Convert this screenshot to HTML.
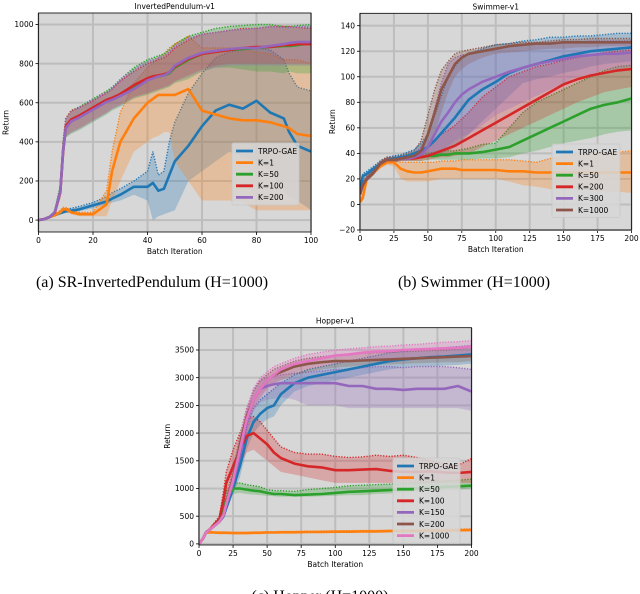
<!DOCTYPE html>
<html><head><meta charset="utf-8"><style>
body{margin:0;background:#fff;}
svg{display:block;font-family:"DejaVu Sans","Liberation Sans",sans-serif;}
.cap{font-family:"Liberation Serif",serif;font-size:16px;}
</style></head><body>
<svg id="fig" width="640" height="594" viewBox="0 0 640 594">
<text class="cap" x="152" y="287" text-anchor="middle">(a) SR-InvertedPendulum (H=1000)</text>
<text class="cap" x="474" y="287" text-anchor="middle">(b) Swimmer (H=1000)</text>
<text class="cap" x="320" y="601" text-anchor="middle">(c) Hopper (H=1000)</text>
</svg>
<script>
// ---- Chart A: InvertedPendulum ----
const aX=[0,2,4,6,8,9,10,12,15,20,25,27,30,35,40,42,44,46,48,50,55,60,65,70,75,80,85,90,92,95,100];
const aTrpoM=[0,5,15,25,35,40,45,48,55,75,95,110,130,170,170,190,150,160,230,300,380,480,560,590,570,610,550,520,450,380,350];
const aTrpoH=[0,6,18,30,45,50,55,60,70,90,120,140,160,200,250,350,230,250,400,500,650,750,830,860,870,880,870,820,750,680,660];
const aTrpoL=[0,4,12,20,28,32,36,40,45,60,80,90,100,130,100,0,20,30,40,50,200,250,300,350,320,300,250,150,120,100,50];
const aK1M=[0,5,15,25,40,55,55,40,30,30,80,250,400,520,600,620,640,640,640,640,670,560,540,520,510,510,500,480,470,440,430];
const aK1H=[0,6,18,30,50,65,65,50,40,40,150,350,550,700,780,800,830,850,880,900,940,880,880,880,870,860,850,820,820,820,800];
const aK1L=[0,4,12,20,30,45,45,30,20,20,20,100,200,350,400,420,430,450,450,300,200,100,100,100,90,50,50,50,50,50,50];
const aK50M=[0,5,15,40,150,350,470,510,530,570,610,620,640,680,720,730,735,740,750,780,820,850,860,870,875,880,885,890,890,895,905];
const aK50H=[0,6,18,45,180,400,520,560,580,620,660,680,720,780,820,830,840,850,870,900,940,960,980,990,995,1000,1000,990,990,995,1000];
const aK50L=[0,4,12,35,120,300,420,440,460,500,540,560,580,620,640,650,660,670,680,700,720,760,780,780,770,760,760,750,760,750,750];
const aK100M=[0,5,15,38,140,340,480,515,535,575,615,625,645,690,725,735,740,745,755,785,825,850,860,870,880,885,885,895,895,900,900];
const aK100H=[0,6,18,42,170,390,520,560,575,610,650,670,710,760,800,810,820,830,850,880,920,950,960,970,980,980,990,990,990,985,980];
const aK100L=[0,4,12,33,110,290,430,450,470,510,550,570,590,630,650,660,670,680,690,710,740,770,790,800,800,800,800,800,800,800,800];
const aK200M=[0,5,15,40,145,345,470,505,525,565,605,615,635,670,715,725,735,740,755,790,830,855,865,875,880,880,890,900,905,910,910];
const aK200H=[0,6,18,44,175,395,515,555,575,615,655,675,715,770,810,820,830,840,860,890,930,950,960,970,975,980,990,985,985,990,990];
const aK200L=[0,4,12,34,115,295,425,445,465,505,545,565,585,625,645,655,665,675,685,705,730,760,780,790,790,790,790,790,790,790,790];
const aYTicks=[0,200,400,600,800,1000];
const aXTicks=[0,20,40,60,80,100];
// ---- Chart B: Swimmer ----
const bX=[0,2,5,10,15,20,25,30,35,40,45,50,55,60,65,70,75,80,90,100,110,120,130,140,150,160,170,180,190,200];
const bTrpoM=[10,22,24,28,32,35,36,37,38,40,42,45,50,56,62,68,75,82,90,96,103,107,110,113,116,118,120,121,122,123];
const bTrpoH=[12,24,26,30,34,37,38,39,41,43,48,55,70,85,100,108,115,118,122,125,126,128,129,131,131,132,132,133,134,134];
const bTrpoL=[8,18,20,25,30,33,34,35,36,36,37,38,39,40,42,45,50,55,65,75,85,95,98,100,103,105,108,110,111,112];
const bK1M=[2,5,20,25,30,33,33,28,26,25,25,26,27,28,28,28,27,27,27,27,26,26,25,25,25,25,25,25,25,25];
const bK1H=[3,8,22,27,32,35,35,33,33,33,33,33,33,34,34,34,35,35,35,35,35,34,33,36,38,39,40,41,41,42];
const bK1L=[1,2,18,23,28,31,30,20,18,18,18,18,19,20,20,20,20,20,20,20,18,15,14,12,12,12,11,10,10,9];
const bK50M=[8,15,20,25,32,35,35,36,36,37,37,38,38,39,39,40,40,40,41,43,45,50,55,60,65,70,75,78,80,83];
const bK50H=[10,18,22,27,34,37,37,38,39,39,40,40,41,42,42,42,43,44,47,48,60,72,80,85,90,95,100,105,108,109];
const bK50L=[6,12,18,23,30,33,33,34,34,34,34,35,35,35,35,35,35,35,36,36,37,40,42,45,48,50,52,55,57,58];
const bK200M=[8,15,20,25,32,35,35,36,36,36,37,38,40,42,44,46,49,52,58,64,70,76,82,88,94,98,101,103,105,106];
const bK200H=[10,18,22,27,34,37,37,38,38,38,41,45,50,55,58,62,67,72,84,92,100,104,108,110,113,115,117,119,120,121];
const bK200L=[6,12,18,23,30,33,33,34,34,34,34,35,36,37,37,38,39,40,45,50,55,60,65,70,75,80,84,88,90,92];
const bK300M=[8,15,20,25,32,35,35,36,36,37,39,45,55,65,72,80,86,90,96,100,104,107,110,112,114,116,117,118,118,119];
const bK300H=[10,18,22,27,34,37,37,38,38,40,45,55,75,95,110,115,117,118,120,122,124,125,126,126,127,127,128,128,128,128];
const bK300L=[6,12,18,23,30,33,33,34,34,35,36,38,40,42,46,50,53,55,62,70,75,80,85,90,95,100,102,105,106,108];
const bK1000M=[8,15,20,25,32,35,35,36,37,38,42,55,72,90,100,110,115,118,120,122,124,125,126,126,127,127,127,127,127,127];
const bK1000H=[10,18,22,27,34,37,37,38,40,42,50,70,90,105,112,118,120,121,123,125,126,127,127,128,129,129,130,130,130,130];
const bK1000L=[6,12,18,23,30,33,33,34,35,36,40,45,55,72,88,100,106,110,115,118,119,120,121,122,122,123,123,124,124,124];
const bYTicks=[-20,0,20,40,60,80,100,120,140];
const bXTicks=[0,25,50,75,100,125,150,175,200];
// ---- Chart C: Hopper ----
const cX=[0,3,5,8,10,15,18,20,25,30,35,40,45,50,55,60,70,80,90,100,110,120,130,140,150,160,170,180,190,200];
const cTrpoM=[0,100,200,260,300,400,500,650,1000,1400,1900,2200,2350,2450,2500,2700,2900,3000,3050,3100,3150,3200,3250,3300,3330,3350,3370,3380,3400,3420];
const cTrpoH=[0,120,220,280,320,430,550,720,1100,1600,2100,2450,2600,2700,2800,2900,3050,3150,3200,3250,3300,3350,3400,3450,3480,3500,3520,3540,3560,3580];
const cTrpoL=[0,80,180,240,280,370,450,580,900,1200,1700,2000,2150,2250,2300,2500,2750,2850,2900,2950,3000,3050,3100,3150,3180,3200,3200,3220,3230,3250];
const cK1M=[0,100,200,210,205,200,200,200,195,195,195,200,200,205,205,210,210,215,215,220,220,225,225,230,230,235,240,240,245,250];
const cK1H=[0,110,215,225,220,215,215,215,210,210,210,215,215,220,220,225,225,230,232,236,238,242,244,248,250,255,260,262,266,272];
const cK1L=[0,90,185,195,190,185,185,185,180,180,180,185,185,190,190,195,195,200,200,204,204,208,208,212,212,216,220,220,224,228];
const cK50M=[0,100,200,260,300,400,600,800,1000,1000,980,960,950,920,900,900,880,890,900,920,940,950,960,970,980,1000,1010,1030,1040,1050];
const cK50H=[0,120,220,280,320,430,700,950,1100,1100,1070,1050,1030,980,960,960,950,980,1000,1020,1050,1060,1070,1080,1090,1100,1120,1140,1150,1170];
const cK50L=[0,80,180,240,280,370,500,700,900,920,900,890,880,870,860,850,850,850,860,870,880,880,900,910,920,940,960,970,980,1000];
const cK100M=[0,100,200,260,320,450,800,1100,1400,1700,1950,2000,1900,1800,1650,1550,1450,1400,1380,1330,1330,1340,1350,1320,1300,1300,1310,1290,1280,1300];
const cK100H=[0,120,220,280,340,500,950,1300,1700,2000,2250,2300,2200,2050,1900,1750,1650,1620,1620,1580,1560,1570,1600,1580,1600,1560,1500,1450,1420,1540];
const cK100L=[0,80,180,240,300,400,650,900,1100,1400,1650,1700,1600,1500,1400,1300,1250,1200,1150,1100,1100,1100,1100,1100,1100,1100,1100,1100,1100,1100];
const cK150M=[0,100,200,260,300,400,520,700,1100,1600,2200,2600,2800,2850,2880,2900,2900,2900,2900,2900,2850,2850,2800,2800,2780,2800,2800,2800,2850,2750];
const cK150H=[0,120,220,280,320,450,600,800,1250,1800,2400,2800,2950,3000,3020,3050,3080,3100,3120,3150,3150,3180,3200,3200,3180,3200,3200,3200,3180,3150];
const cK150L=[0,80,180,240,280,370,450,600,950,1400,2000,2400,2550,2600,2620,2650,2600,2500,2500,2500,2450,2450,2450,2450,2450,2450,2450,2450,2450,2400];
const cK200M=[0,100,200,260,300,420,550,750,1200,1800,2300,2600,2800,2950,3050,3100,3200,3250,3280,3300,3300,3310,3320,3330,3340,3350,3360,3370,3380,3390];
const cK200H=[0,120,220,280,320,460,620,850,1350,1950,2450,2750,2950,3050,3150,3200,3300,3350,3380,3400,3420,3440,3450,3460,3470,3480,3490,3500,3520,3550];
const cK200L=[0,80,180,240,280,380,480,650,1050,1650,2150,2450,2650,2800,2900,2950,3050,3100,3150,3180,3200,3220,3230,3240,3250,3260,3270,3280,3280,3300];
const cK1000M=[0,100,200,260,300,400,520,720,1150,1700,2250,2600,2800,2950,3050,3150,3250,3300,3350,3400,3420,3450,3470,3480,3500,3510,3520,3530,3540,3560];
const cK1000H=[0,120,220,280,320,440,600,820,1300,1900,2450,2800,3000,3100,3200,3250,3350,3420,3460,3500,3520,3540,3560,3570,3590,3600,3620,3640,3650,3670];
const cK1000L=[0,80,180,240,280,370,460,620,1000,1500,2050,2400,2600,2800,2900,3000,3100,3150,3200,3250,3280,3300,3320,3330,3340,3350,3360,3370,3380,3400];
const cYTicks=[0,500,1000,1500,2000,2500,3000,3500];
const cXTicks=[0,25,50,75,100,125,150,175,200];

const NS="http://www.w3.org/2000/svg";
const fig=document.getElementById('fig');
function mk(tag,attrs,parent){const e=document.createElementNS(NS,tag);for(const k in attrs)e.setAttribute(k,attrs[k]);(parent||fig).appendChild(e);return e;}

function chart(cfg){
  const g=mk('g',{});
  
  
  const sx=v=>cfg.L+(v-cfg.x0)/(cfg.x1-cfg.x0)*(cfg.R-cfg.L);
  const sy=v=>cfg.B-(v-cfg.y0)/(cfg.y1-cfg.y0)*(cfg.B-cfg.T);
  const bg=mk('rect',{x:cfg.L,y:cfg.T,width:cfg.R-cfg.L,height:cfg.B-cfg.T,fill:'#d7d7d7'},g);
  
  
  cfg.xt.forEach(t=>{const l=mk('line',{x1:sx(t),x2:sx(t),y1:cfg.T,y2:cfg.B,stroke:'#bdbdbd','stroke-width':2},g);
    
    const tl=mk('line',{x1:sx(t),x2:sx(t),y1:cfg.B,y2:cfg.B+3,stroke:'#000','stroke-width':0.8},g);
    
    const tx=mk('text',{x:sx(t),y:cfg.B+11,'font-size':7.5,'text-anchor':'middle'},g);tx.textContent=t;
    });
  cfg.yt.forEach(t=>{const l=mk('line',{x1:cfg.L,x2:cfg.R,y1:sy(t),y2:sy(t),stroke:'#bdbdbd','stroke-width':2},g);
    
    const tl=mk('line',{x1:cfg.L-3,x2:cfg.L,y1:sy(t),y2:sy(t),stroke:'#000','stroke-width':0.8},g);
    
    const tx=mk('text',{x:cfg.L-5,y:sy(t)+2.7,'font-size':7.5,'text-anchor':'end'},g);tx.textContent=(t<0?'\u2212'+(-t):t);
    });
  const clipId='clip'+cfg.name;
  const cp=mk('clipPath',{id:clipId},g);mk('rect',{x:cfg.L,y:cfg.T,width:cfg.R-cfg.L,height:cfg.B-cfg.T},cp);
  const sg=mk('g',{'clip-path':'url(#'+clipId+')'},g);
  cfg.series.forEach(s=>{
    const X=cfg.X;
    let d=X.map((x,i)=>(i?'L':'M')+sx(x).toFixed(1)+','+sy(s.h[i]).toFixed(1)).join('');
    for(let i=X.length-1;i>=0;i--)d+='L'+sx(X[i]).toFixed(1)+','+sy(s.l[i]).toFixed(1);
    const band=mk('path',{d:d+'Z',fill:s.c,'fill-opacity':0.28},sg);
    
    const hp=mk('path',{d:X.map((x,i)=>(i?'L':'M')+sx(x).toFixed(1)+','+sy(s.h[i]).toFixed(1)).join(''),fill:'none',stroke:s.c,'stroke-width':1.4,'stroke-dasharray':'1.2,1.6'},sg);
    
  });
  cfg.series.forEach(s=>{
    const mp=mk('path',{d:cfg.X.map((x,i)=>(i?'L':'M')+sx(x).toFixed(1)+','+sy(s.m[i]).toFixed(1)).join(''),fill:'none',stroke:s.c,'stroke-width':2.6,'stroke-linejoin':'round'},sg);
    
  });
  const fr=mk('rect',{x:cfg.L,y:cfg.T,width:cfg.R-cfg.L,height:cfg.B-cfg.T,fill:'none',stroke:'#000','stroke-width':0.8},g);
  
  const ti=mk('text',{x:(cfg.L+cfg.R)/2,y:cfg.T-4,'font-size':7.5,'text-anchor':'middle'},g);ti.textContent=cfg.title;
  
  const xl=mk('text',{x:(cfg.L+cfg.R)/2,y:cfg.B+22,'font-size':7.5,'text-anchor':'middle'},g);xl.textContent='Batch Iteration';
  
  const yx=cfg.L-cfg.ylOff,ym=(cfg.T+cfg.B)/2;
  const yl=mk('text',{x:yx,y:ym,'font-size':7.5,'text-anchor':'middle',transform:'rotate(-90 '+yx+' '+ym+')'},g);yl.textContent='Return';
  
  // legend
  const lg=mk('g',{},g);
  
  const n=cfg.series.length,rh=11.6;
  mk('rect',{x:cfg.lx,y:cfg.ly,width:cfg.lw,height:n*rh+4,fill:'#d7d7d7','fill-opacity':0.85,stroke:'#c8c8c8','stroke-width':0.8,rx:2},lg);
  cfg.series.forEach((s,i)=>{
    const yy=cfg.ly+8+i*rh;
    const e=mk('g',{},lg);
    
    mk('line',{x1:cfg.lx+4,x2:cfg.lx+21,y1:yy,y2:yy,stroke:s.c,'stroke-width':2.8},e);
    const t=mk('text',{x:cfg.lx+26,y:yy+2.8,'font-size':7.5},e);t.textContent=s.label;
  });
}
const C={b:'#1f77b4',o:'#ff7f0e',g:'#2ca02c',r:'#d62728',p:'#9467bd',br:'#8c564b',pk:'#e377c2'};
chart({name:'inverted-pendulum-chart',title:'InvertedPendulum-v1',L:38.5,R:311,T:13,B:232,x0:0,x1:100,y0:-61,y1:1059,ylOff:30,X:aX,xt:aXTicks,yt:aYTicks,lx:232,ly:143,lw:67,
 series:[{key:'trpo-gae',label:'TRPO-GAE',c:C.b,m:aTrpoM,h:aTrpoH,l:aTrpoL},{key:'k1',label:'K=1',c:C.o,m:aK1M,h:aK1H,l:aK1L},{key:'k50',label:'K=50',c:C.g,m:aK50M,h:aK50H,l:aK50L},{key:'k100',label:'K=100',c:C.r,m:aK100M,h:aK100H,l:aK100L},{key:'k200',label:'K=200',c:C.p,m:aK200M,h:aK200H,l:aK200L}]});
chart({name:'swimmer-chart',title:'Swimmer-v1',L:360,R:631.5,T:13.3,B:230,x0:0,x1:200,y0:-20,y1:149.7,ylOff:25,X:bX,xt:bXTicks,yt:bYTicks,lx:552,ly:144,lw:68,
 series:[{key:'trpo-gae',label:'TRPO-GAE',c:C.b,m:bTrpoM,h:bTrpoH,l:bTrpoL},{key:'k1',label:'K=1',c:C.o,m:bK1M,h:bK1H,l:bK1L},{key:'k50',label:'K=50',c:C.g,m:bK50M,h:bK50H,l:bK50L},{key:'k200',label:'K=200',c:C.r,m:bK200M,h:bK200H,l:bK200L},{key:'k300',label:'K=300',c:C.p,m:bK300M,h:bK300H,l:bK300L},{key:'k1000',label:'K=1000',c:C.br,m:bK1000M,h:bK1000H,l:bK1000L}]});
chart({name:'hopper-chart',title:'Hopper-v1',L:199,R:471.5,T:327.7,B:545,x0:0,x1:200,y0:-20,y1:3902,ylOff:29,X:cX,xt:cXTicks,yt:cYTicks,lx:393,ly:458,lw:67,
 series:[{key:'trpo-gae',label:'TRPO-GAE',c:C.b,m:cTrpoM,h:cTrpoH,l:cTrpoL},{key:'k1',label:'K=1',c:C.o,m:cK1M,h:cK1H,l:cK1L},{key:'k50',label:'K=50',c:C.g,m:cK50M,h:cK50H,l:cK50L},{key:'k100',label:'K=100',c:C.r,m:cK100M,h:cK100H,l:cK100L},{key:'k150',label:'K=150',c:C.p,m:cK150M,h:cK150H,l:cK150L},{key:'k200',label:'K=200',c:C.br,m:cK200M,h:cK200H,l:cK200L},{key:'k1000',label:'K=1000',c:C.pk,m:cK1000M,h:cK1000H,l:cK1000L}]});
</script>
</body></html>
